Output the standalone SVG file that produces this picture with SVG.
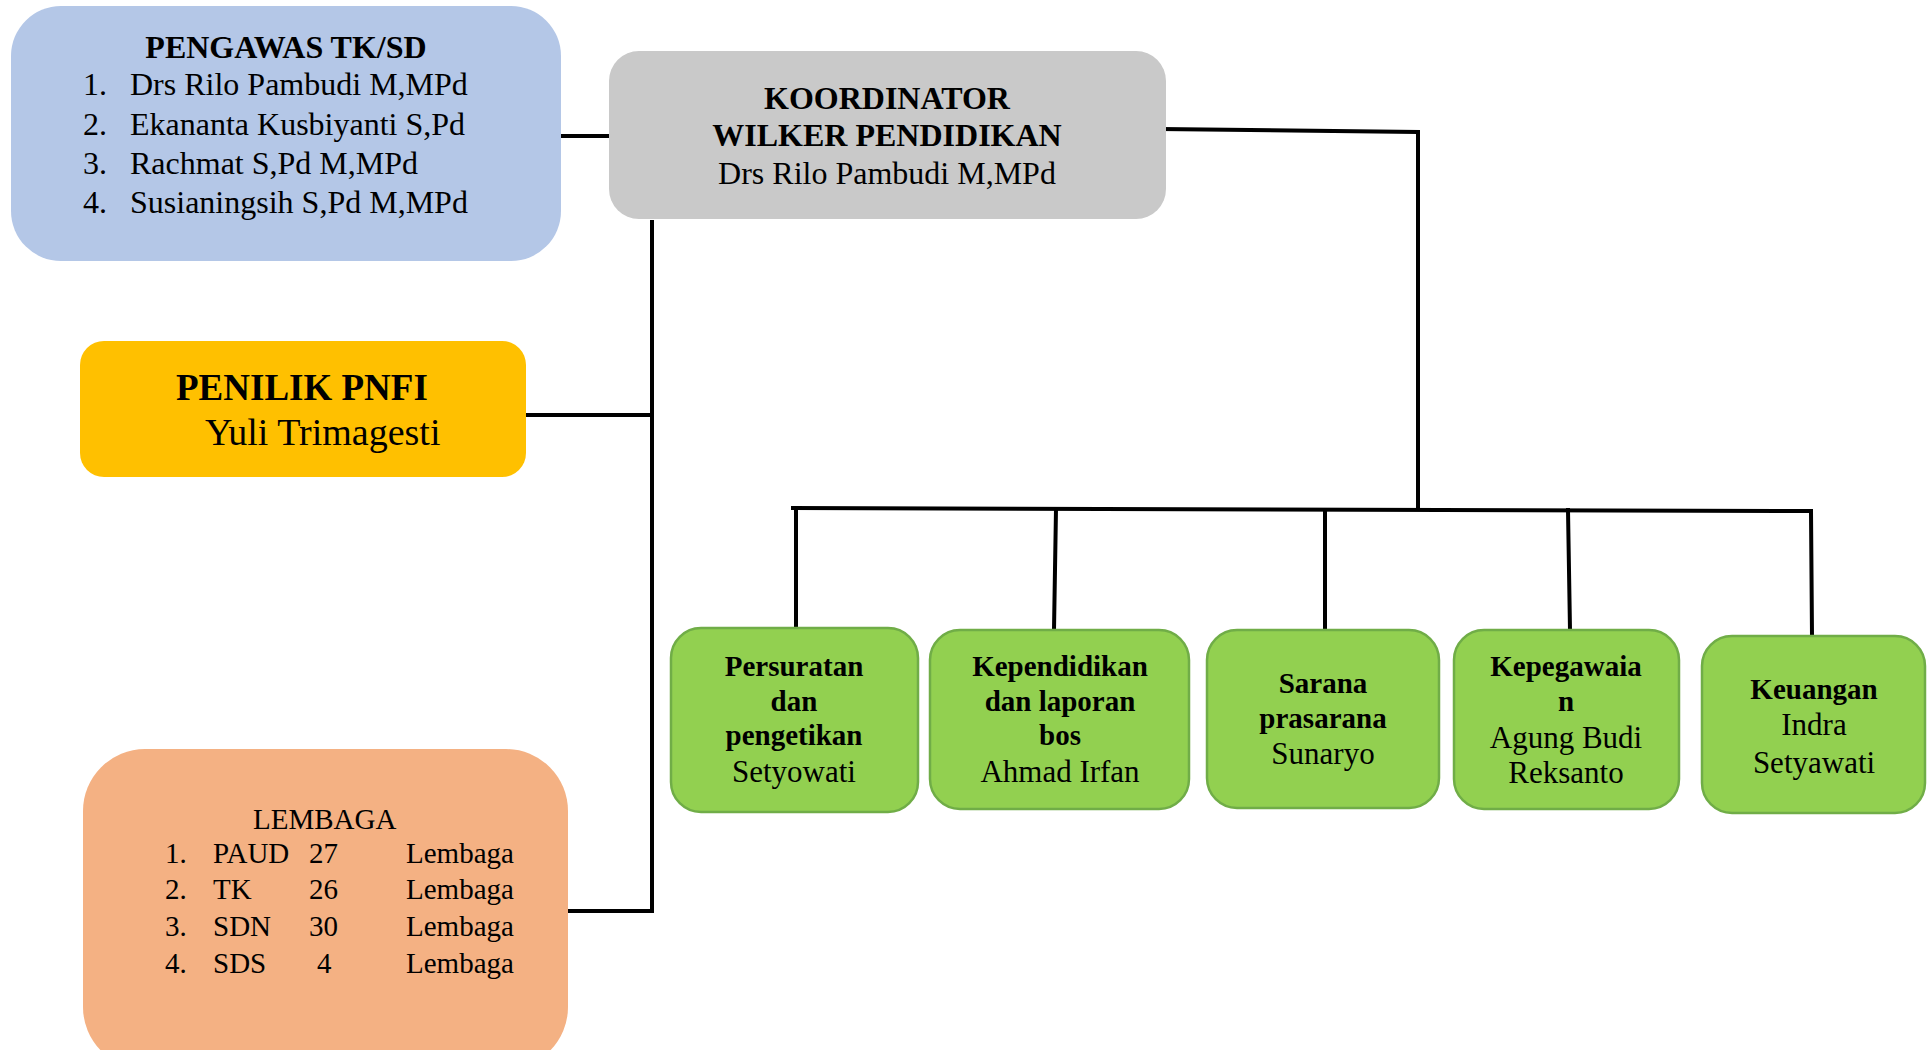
<svg xmlns="http://www.w3.org/2000/svg" width="1932" height="1050" viewBox="0 0 1932 1050">
<style>
text{font-family:"Liberation Serif","Times New Roman",serif;fill:#000}
.b{font-weight:bold}
.c{text-anchor:middle}
.ln{stroke:#000;stroke-width:4;fill:none;stroke-linecap:square}
.g{fill:#92D050;stroke:#70AD47;stroke-width:2.5}
.t29{font-size:29px}
.r{font-size:31px}
.t32{font-size:32px}
</style>
<rect width="1932" height="1050" fill="#fff"/>
<g id="connectors">
<path class="ln" d="M563 136H609"/>
<path class="ln" d="M1161 129L1418 132V509"/>
<path class="ln" d="M793 508L1811 511"/>
<path class="ln" d="M796 509V628"/>
<path class="ln" d="M1056 509L1054 630"/>
<path class="ln" d="M1325 510V630"/>
<path class="ln" d="M1568 510L1570 630"/>
<path class="ln" d="M1811 511L1812 636"/>
<path class="ln" d="M652 222V911"/>
<path class="ln" d="M526 415H652"/>
<path class="ln" d="M568 911H652"/>
</g>
<g id="pengawas">
<rect x="11" y="6" width="550" height="255" rx="50" fill="#B4C7E7"/>
<text class="b c t32" x="286" y="58">PENGAWAS TK/SD</text>
<g class="t32">
<text x="83" y="95">1.</text><text x="130" y="95">Drs Rilo Pambudi M,MPd</text>
<text x="83" y="135">2.</text><text x="130" y="135">Ekananta Kusbiyanti S,Pd</text>
<text x="83" y="174">3.</text><text x="130" y="174">Rachmat S,Pd M,MPd</text>
<text x="83" y="213">4.</text><text x="130" y="213">Susianingsih S,Pd M,MPd</text>
</g>
</g>
<g id="koordinator">
<rect x="609" y="51" width="557" height="168" rx="30" fill="#C9C9C9"/>
<text class="b c t32" x="887" y="109">KOORDINATOR</text>
<text class="b c t32" x="887" y="146">WILKER PENDIDIKAN</text>
<text class="c t32" x="887" y="184">Drs Rilo Pambudi M,MPd</text>
</g>
<g id="penilik">
<rect x="80" y="341" width="446" height="136" rx="24" fill="#FFC000"/>
<text class="b" x="176" y="400" font-size="37">PENILIK PNFI</text>
<text x="205" y="445" font-size="38">Yuli Trimagesti</text>
</g>
<g id="lembaga">
<rect x="83" y="749" width="485" height="320" rx="62" fill="#F4B183"/>
<g class="t29">
<text x="253" y="829">LEMBAGA</text>
<text x="165" y="863">1.</text><text x="213" y="863">PAUD</text><text x="309" y="863">27</text><text x="406" y="863">Lembaga</text>
<text x="165" y="899">2.</text><text x="213" y="899">TK</text><text x="309" y="899">26</text><text x="406" y="899">Lembaga</text>
<text x="165" y="936">3.</text><text x="213" y="936">SDN</text><text x="309" y="936">30</text><text x="406" y="936">Lembaga</text>
<text x="165" y="973">4.</text><text x="213" y="973">SDS</text><text x="317" y="973">4</text><text x="406" y="973">Lembaga</text>
</g>
</g>
<g id="persuratan">
<rect class="g" x="671" y="628" width="247" height="184" rx="30"/>
<text class="b c t29" x="794" y="676">Persuratan</text>
<text class="b c t29" x="794" y="711">dan</text>
<text class="b c t29" x="794" y="745">pengetikan</text>
<text class="c r" x="794" y="782">Setyowati</text>
</g>
<g id="kependidikan">
<rect class="g" x="930" y="630" width="259" height="179" rx="30"/>
<text class="b c t29" x="1060" y="676">Kependidikan</text>
<text class="b c t29" x="1060" y="711">dan laporan</text>
<text class="b c t29" x="1060" y="745">bos</text>
<text class="c r" x="1060" y="782">Ahmad Irfan</text>
</g>
<g id="sarana">
<rect class="g" x="1207" y="630" width="232" height="178" rx="30"/>
<text class="b c t29" x="1323" y="693">Sarana</text>
<text class="b c t29" x="1323" y="728">prasarana</text>
<text class="c r" x="1323" y="764">Sunaryo</text>
</g>
<g id="kepegawaian">
<rect class="g" x="1454" y="630" width="225" height="179" rx="30"/>
<text class="b c t29" x="1566" y="676">Kepegawaia</text>
<text class="b c t29" x="1566" y="711">n</text>
<text class="c r" x="1566" y="748">Agung Budi</text>
<text class="c r" x="1566" y="783">Reksanto</text>
</g>
<g id="keuangan">
<rect class="g" x="1702" y="636" width="223" height="177" rx="30"/>
<text class="b c t29" x="1814" y="699">Keuangan</text>
<text class="c r" x="1814" y="735">Indra</text>
<text class="c r" x="1814" y="773">Setyawati</text>
</g>
</svg>
